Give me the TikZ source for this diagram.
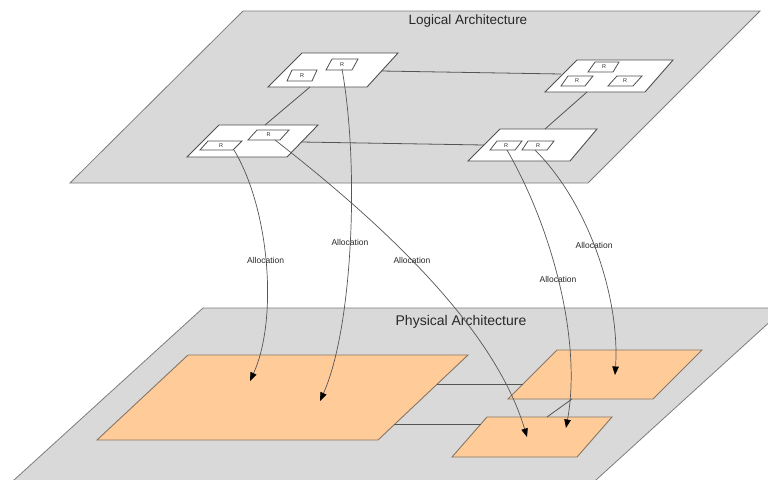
\documentclass[tikz,border=0pt]{standalone}
\usepackage{fontspec}
\setmainfont{Liberation Sans}
\usetikzlibrary{arrows.meta}

\definecolor{planefill}{RGB}{217,217,217}
\definecolor{planeline}{RGB}{125,125,125}
\definecolor{boxline}{RGB}{80,80,80}
\definecolor{peach}{RGB}{255,204,153}
\definecolor{peachline}{RGB}{135,118,100}
\definecolor{wire}{RGB}{85,85,85}
\definecolor{ink}{RGB}{40,40,40}

\begin{document}
\begin{tikzpicture}[x=1pt,y=-1pt,
  plane/.style={fill=planefill,draw=planeline,line width=0.8pt},
  lbox/.style={fill=white,draw=boxline,line width=0.9pt},
  rbox/.style={fill=white,draw=boxline,line width=0.8pt},
  pbox/.style={fill=peach,draw=peachline,line width=0.9pt},
  rlabel/.style={inner sep=0pt,font=\fontsize{5.5}{6}\selectfont,text=ink},
  title/.style={inner sep=0pt,text=ink},
  link/.style={draw=wire,line width=0.8pt},
  alloc/.style={draw=wire,line width=0.7pt,-{Triangle[length=8.5pt,width=6.5pt,color=black]}},
  alabel/.style={inner sep=0pt,font=\fontsize{8.5}{9}\selectfont,text=ink}]

\path[use as bounding box,clip] (0,0) rectangle (768,479);
\fill[white] (0,0) rectangle (768,479);

% ---------- logical layer ----------
\draw[plane] (243,11) -- (760,11) -- (588,183) -- (70,183) -- cycle;
\node[title,font=\fontsize{13.5}{15}\selectfont] (logtitle) at (468,21) {Logical Architecture};

% ---------- physical layer ----------
\draw[plane] (203,308) -- (785,308) -- (585,490) -- (3,490) -- cycle;
\node[title,font=\fontsize{14}{16}\selectfont] (phystitle) at (461,322) {Physical Architecture};

% logical components (parallelograms) with their connection points
\draw[lbox] (302,53) -- (398,53) -- (367,87) -- (268,87) -- cycle;   % A
\draw[lbox] (577,60) -- (673,60) -- (645,92) -- (545,92) -- cycle;   % B
\draw[lbox] (219,125) -- (318,125) -- (287,157) -- (187,157) -- cycle; % C
\draw[lbox] (500,129) -- (597,129) -- (570,161) -- (468,161) -- cycle; % D

\coordinate (Aeast) at (381,71);
\coordinate (Asouth) at (310,87);
\coordinate (Bwest) at (561,74);
\coordinate (Bsouth) at (587,92);
\coordinate (Cnorth) at (265,125);
\coordinate (Ceast) at (301,142);
\coordinate (Dnorth) at (545,129);
\coordinate (Dwest) at (484,145);

\draw[link] (Aeast) -- (Bwest);
\draw[link] (Asouth) -- (Cnorth);
\draw[link] (Bsouth) -- (Dnorth);
\draw[link] (Ceast) -- (Dwest);

% runnables inside the logical components
\draw[rbox] (292,70) -- (317,70) -- (312,81) -- (287,81) -- cycle;
\node[rlabel] (ra1) at (302,75.5) {R};
\draw[rbox] (332,59) -- (358,59) -- (352,70) -- (326,70) -- cycle;
\node[rlabel] (ra2) at (342,64.5) {R};

\draw[rbox] (595,62) -- (619,62) -- (613,72) -- (588,72) -- cycle;
\node[rlabel] (rb1) at (604,67) {R};
\draw[rbox] (568,76) -- (593,76) -- (585,86) -- (561,86) -- cycle;
\node[rlabel] (rb2) at (577,81) {R};
\draw[rbox] (617,76) -- (642,76) -- (633,86) -- (608,86) -- cycle;
\node[rlabel] (rb3) at (625,81) {R};

\draw[rbox] (208,141) -- (242,141) -- (233,150) -- (200,150) -- cycle;
\node[rlabel] (rc1) at (221,145.5) {R};
\draw[rbox] (257,130) -- (289,130) -- (280,140) -- (248,140) -- cycle;
\node[rlabel] (rc2) at (268.5,135) {R};

\draw[rbox] (497,141) -- (522,141) -- (515,150) -- (490,150) -- cycle;
\node[rlabel] (rd1) at (506,145.5) {R};
\draw[rbox] (528,141) -- (554,141) -- (547,150) -- (522,150) -- cycle;
\node[rlabel] (rd2) at (538,145.5) {R};

\coordinate (ra2out) at (342,69);
\coordinate (rc1out) at (234,150);
\coordinate (rc2out) at (275,140);
\coordinate (rd1out) at (507,150);
\coordinate (rd2out) at (535,150);

% physical components
\draw[pbox] (188,355) -- (468,355) -- (378,440) -- (97,440) -- cycle;  % P1
\draw[pbox] (557,350) -- (702,350) -- (653,399) -- (508,399) -- cycle; % P2
\draw[pbox] (487,417) -- (612,417) -- (577,457) -- (452,457) -- cycle; % P3

\coordinate (P1east) at (437,384);
\coordinate (P1southeast) at (394,424);
\coordinate (P2west) at (523,384);
\coordinate (P2south) at (572,399);
\coordinate (P3west) at (481,424);
\coordinate (P3north) at (547,417);

\draw[link] (P1east) -- (P2west);
\draw[link] (P1southeast) -- (P3west);
\draw[link] (P2south) -- (P3north);

\coordinate (t1) at (250,381);
\coordinate (t2) at (320,401);
\coordinate (t3) at (527,437);
\coordinate (t4) at (566,428);
\coordinate (t5) at (615,375);

% allocation arrows
\draw[alloc] (rc1out) .. controls (270,210) and (278,320) .. (t1)
  node[alabel,pos=0.48] (al1) {Allocation};
\draw[alloc] (ra2out) .. controls (360,170) and (352,330) .. (t2)
  node[alabel,pos=0.49] (al2) {Allocation};
\draw[alloc] (rc2out) .. controls (388,228) and (495,330) .. (t3)
  node[alabel,pos=0.43] (al3) {Allocation};
\draw[alloc] (rd1out) .. controls (552,228) and (582,340) .. (t4)
  node[alabel,pos=0.48] (al4) {Allocation};
\draw[alloc] (rd2out) .. controls (590,205) and (620,300) .. (t5)
  node[alabel,pos=0.46] (al5) {Allocation};

\end{tikzpicture}
\end{document}
